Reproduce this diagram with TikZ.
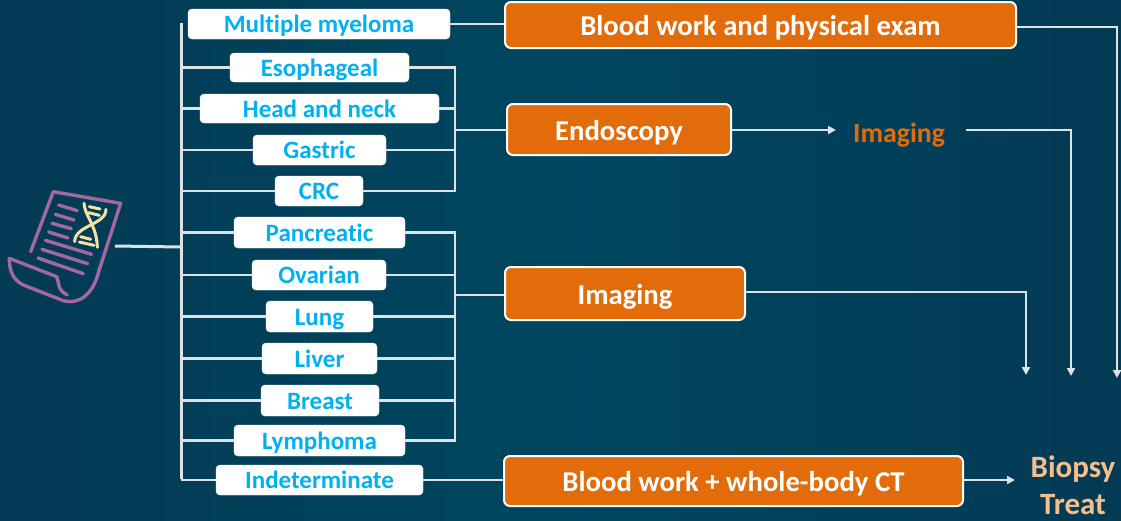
\documentclass[tikz,border=0pt]{standalone}
\usepackage{fontspec}
\setmainfont[Ligatures=NoCommon]{Carlito}
\usetikzlibrary{arrows.meta}
\definecolor{bgmid}{HTML}{00465F}
\definecolor{bgedge}{HTML}{033A54}
\definecolor{wire}{HTML}{DDE2E4}
\definecolor{orangebox}{HTML}{E36C0A}
\definecolor{bluetxt}{HTML}{00B0F0}
\definecolor{peach}{HTML}{F6BE8C}
\definecolor{iconpurple}{HTML}{A3689F}
\definecolor{iconyellow}{HTML}{F3E3A0}
\tikzset{
  x=1pt,y=-1pt,
  cancer/.style={draw=white,fill=white,rounded corners=4pt,inner sep=0pt,text=bluetxt,font=\fontsize{25}{25}\bfseries,text height=20,text depth=2.5},
  action/.style={draw=white,line width=2pt,fill=orangebox,rounded corners=6pt,inner sep=0pt,text=white,font=\fontsize{28.7}{28.7}\bfseries,text height=24,text depth=3},
  wireline/.style={draw=wire,line width=2.2pt},
  busline/.style={draw=wire,line width=3pt},
  arrowline/.style={wireline,-{Triangle[length=8pt,width=8pt]}},
  purp/.style={draw=iconpurple,line width=3.4pt,line cap=round,line join=round},
  dna/.style={draw=iconyellow,line width=3pt,line cap=round},
}
\newcommand{\boxnode}[7]{\node[#1,minimum width=#5-#4,minimum height=#7-#6] (#2) at ({(#4+#5)/2},{(#6+#7)/2}) {#3};}
\begin{document}
\begin{tikzpicture}
\useasboundingbox (0,0) rectangle (1121,520);
\shade[left color=bgedge,right color=bgedge,middle color=bgmid] (0,0) rectangle (1121,520);

% icon
\begin{scope}[shift={(0,170)},x=1pt/3,y=-1pt/3]
\draw[purp] (92,245) -- (160,65) -- (362,100) -- (296,305) .. controls (280,370) and (240,405) .. (190,392) -- (70,345) .. controls (40,330) and (28,305) .. (28,265) -- (170,320) .. controls (178,335) and (170,360) .. (202,375);
\foreach \a/\b/\c/\d in {176/105/232/122,166/133/222/150,156/160/214/176,146/186/204/204,136/211/275/253,126/238/263/281,114/264/250/311}
  \draw[purp] (\a,\b) -- (\c,\d);
\draw[dna] (252,100) .. controls (255,140) and (290,165) .. (292,232);
\draw[dna] (318,118) .. controls (318,165) and (225,165) .. (224,215);
\draw[dna] (268,110) -- (300,117);
\draw[dna] (266,128) -- (298,136);
\draw[dna] (242,200) -- (272,208);
\draw[dna] (238,216) -- (282,226);
\end{scope}

% disease boxes
\boxnode{cancer}{mm}{Multiple myeloma}{188}{450}{9}{39}
\boxnode{cancer}{eso}{Esophageal}{230}{409}{53}{82}
\boxnode{cancer}{hn}{Head and neck}{200}{439}{94}{123}
\boxnode{cancer}{gas}{Gastric}{253}{386}{135}{165}
\boxnode{cancer}{crc}{CRC}{275}{363}{176}{206}
\boxnode{cancer}{pan}{Pancreatic}{234}{405}{217}{248}
\boxnode{cancer}{ova}{Ovarian}{252}{386}{260}{290}
\boxnode{cancer}{lun}{Lung}{266}{373}{301}{332}
\boxnode{cancer}{liv}{Liver}{262}{377}{343}{374}
\boxnode{cancer}{bre}{Breast}{261}{379}{385}{416}
\boxnode{cancer}{lym}{Lymphoma}{234}{405}{425}{456}
\boxnode{cancer}{ind}{Indeterminate}{216}{423}{465}{495}

% action boxes
\boxnode{action}{blood}{Blood work and physical exam}{505}{1016}{2}{48}
\boxnode{action}{endo}{Endoscopy}{507}{731}{104}{155}
\boxnode{action}{imgb}{Imaging}{505}{745}{267}{320}
\boxnode{action}{ct}{Blood work + whole-body CT}{504}{963}{456}{506}

% free texts
\node[text=orangebox,font=\fontsize{27.8}{27.8}\bfseries,inner sep=0pt,anchor=base] (imgt) at (899,142) {Imaging};
\node[text=peach,font=\fontsize{31}{31}\bfseries,inner sep=0pt,anchor=base] (biopsy) at (1073,477) {Biopsy};
\node[text=peach,font=\fontsize{31}{31}\bfseries,inner sep=0pt,anchor=base] (treat) at (1073,514) {Treat};

% junction coordinates
\coordinate (doc) at (115,246);
\coordinate (bustop) at (181,23);
\coordinate (busbot) at (181,479);
\coordinate (busdoc) at (181,247);
\coordinate (rb1) at (455,130);
\coordinate (rb2) at (455,295);
\coordinate (end1) at (1117,378);
\coordinate (end2) at (1071,376);
\coordinate (end3) at (1026,375);
\coordinate (pre2) at (966,130);

% trunk
\draw[busline] (bustop) -- (busbot);
\draw[busline] (doc) -- (busdoc);
\foreach \n in {eso,hn,gas,crc,pan,ova,lun,liv,bre,lym,ind}
  \draw[wireline] (\n.west) -- (\n.west -| bustop);

% right brackets
\draw[wireline] (eso.east) -- (eso.east -| rb1) -- (crc.east -| rb1) -- (crc.east);
\draw[wireline] (hn.east) -- (hn.east -| rb1);
\draw[wireline] (gas.east) -- (gas.east -| rb1);
\draw[wireline] (rb1) -- (endo.west |- rb1);
\draw[wireline] (pan.east) -- (pan.east -| rb2) -- (lym.east -| rb2) -- (lym.east);
\draw[wireline] (ova.east) -- (ova.east -| rb2);
\draw[wireline] (lun.east) -- (lun.east -| rb2);
\draw[wireline] (liv.east) -- (liv.east -| rb2);
\draw[wireline] (bre.east) -- (bre.east -| rb2);
\draw[wireline] (rb2) -- (imgb.west |- rb2);

% to actions
\draw[wireline] (mm.east) -- (mm.east -| blood.west);
\draw[wireline] (ind.east) -- (ind.east -| ct.west);

% outputs
\draw[arrowline] (blood.east |- 0,27) -| (end1);
\draw[arrowline] (endo.east |- rb1) -- (836,130);
\draw[arrowline] (pre2) -| (end2);
\draw[arrowline] (imgb.east |- 0,292) -| (end3);
\draw[arrowline] (ct.east |- 0,480) -- (1015,480);
\end{tikzpicture}
\end{document}
